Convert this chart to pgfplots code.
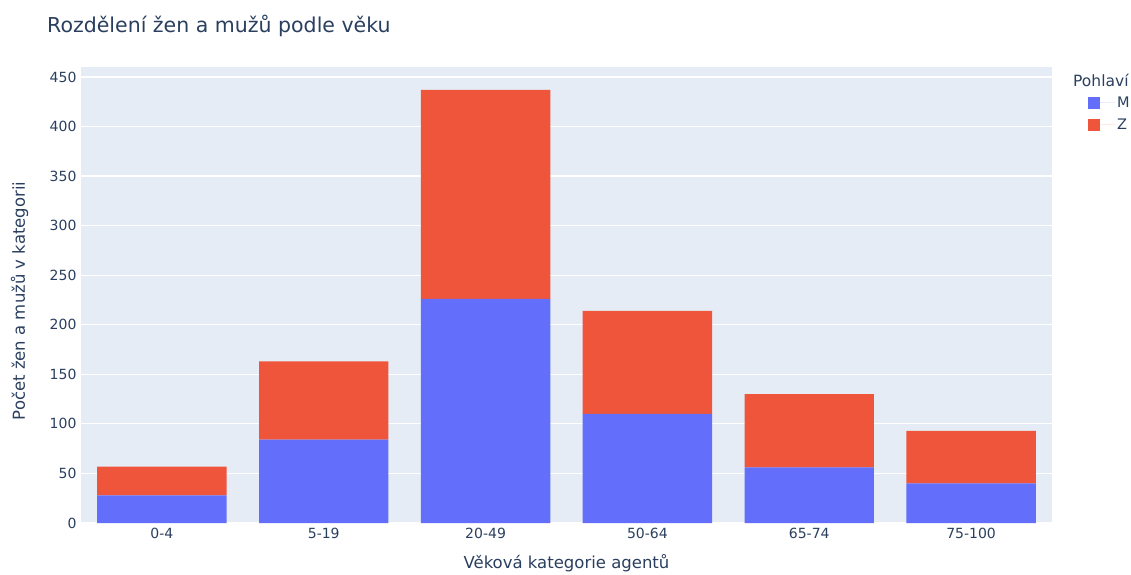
\documentclass[border=0pt]{standalone}
\usepackage{pgfplots}
\pgfplotsset{compat=1.18}
\usepackage{fontspec}
\setmainfont{DejaVu Sans}
\definecolor{txt}{HTML}{2A3F5F}
\definecolor{bgc}{HTML}{E5ECF6}
\definecolor{cM}{HTML}{636EFA}
\definecolor{cZ}{HTML}{EF553B}
\begin{document}
\begin{tikzpicture}
\begin{axis}[
  at={(0,0)}, anchor=south west,
  scale only axis, width=971pt, height=456pt,
  ybar stacked, bar width=0.8,
  xmin=-0.5, xmax=5.5, ymin=0, ymax=460,
  xtick={0,1,2,3,4,5},
  xticklabels={0-4,5-19,20-49,50-64,65-74,75-100},
  ytick={0,50,...,450},
  axis background/.style={fill=bgc},
  axis line style={draw=none},
  major tick length=0pt,
  ymajorgrids, grid style={white, line width=1.2pt},
  tick label style={font=\fontsize{14}{16}\selectfont, text=txt},
  /pgf/number format/assume math mode=true,
  yticklabel style={xshift=-1pt},
  xticklabel style={yshift=-2pt},
  xlabel={Věková kategorie agentů},
  ylabel={Počet žen a mužů v kategorii},
  label style={font=\fontsize{16.5}{19}\selectfont, text=txt},
  xlabel style={at={(axis description cs:0.5,-0.088)}, anchor=center},
  ylabel style={at={(axis description cs:-0.0633,0.487)}, anchor=center},
  legend style={at={(axis description cs:1.037,0.94)}, anchor=north west,
    draw=none, fill=none, inner sep=0pt, row sep=6pt,
    font=\fontsize{14.5}{16}\selectfont, text=txt,
    cells={anchor=west}},
  legend image code/.code={\fill[#1] (0pt,-6pt) rectangle (12pt,6pt); \path (0pt,0pt) -- (27pt,0pt);},
  clip=false,
]
\addplot[fill=cM, draw=none] coordinates {(0,28) (1,84) (2,226) (3,110) (4,56) (5,40)};
\addlegendentry{M}
\addplot[fill=cZ, draw=none] coordinates {(0,29) (1,79) (2,211) (3,104) (4,74) (5,53)};
\addlegendentry{Z}
\node[anchor=west, inner sep=0pt, font=\fontsize{15.5}{18}\selectfont, text=txt] at (axis description cs:1.0216,0.971) {Pohlaví};
\end{axis}
\node[anchor=west, inner sep=0pt, font=\fontsize{20.5}{24}\selectfont, text=txt] at (-34pt,497pt) {Rozdělení žen a mužů podle věku};
\pgfresetboundingbox
\path[use as bounding box] (-81pt,-51pt) rectangle (1050pt,523pt);
\end{tikzpicture}
\end{document}
